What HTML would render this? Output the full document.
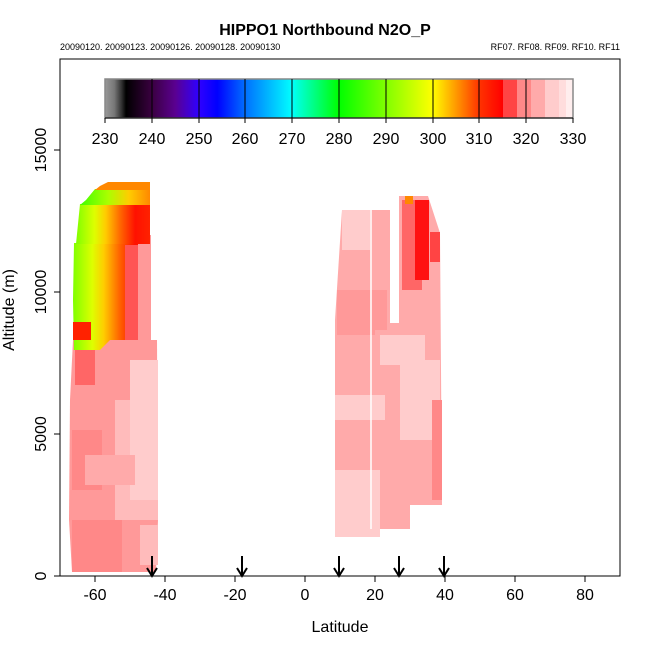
<!DOCTYPE html>
<html><head><style>
body{margin:0;background:#fff;width:650px;height:650px;overflow:hidden;font-family:"Liberation Sans",sans-serif}
</style></head><body>
<svg width="650" height="650" viewBox="0 0 650 650" xmlns="http://www.w3.org/2000/svg" font-family="Liberation Sans, sans-serif">
<defs>
<linearGradient id="cb" x1="0" x2="1" y1="0" y2="0">
<stop offset="0" stop-color="#999"/><stop offset="0.02" stop-color="#777"/><stop offset="0.035" stop-color="#333"/>
<stop offset="0.045" stop-color="#000"/><stop offset="0.1" stop-color="#3a0040"/><stop offset="0.15" stop-color="#5a0090"/>
<stop offset="0.2" stop-color="#3000ff"/><stop offset="0.24" stop-color="#0000ff"/><stop offset="0.3" stop-color="#0070ff"/>
<stop offset="0.4" stop-color="#00ffff"/><stop offset="0.41" stop-color="#00ffdd"/><stop offset="0.5" stop-color="#00ff00"/>
<stop offset="0.6" stop-color="#80ff00"/><stop offset="0.7" stop-color="#ffff00"/><stop offset="0.75" stop-color="#ff9900"/>
<stop offset="0.8" stop-color="#ff3300"/><stop offset="0.85" stop-color="#ff0000"/>
<stop offset="0.85" stop-color="#ff4444"/><stop offset="0.88" stop-color="#ff4444"/>
<stop offset="0.88" stop-color="#ff8888"/><stop offset="0.91" stop-color="#ff8888"/>
<stop offset="0.91" stop-color="#ffaaaa"/><stop offset="0.94" stop-color="#ffaaaa"/>
<stop offset="0.94" stop-color="#ffcccc"/><stop offset="0.97" stop-color="#ffcccc"/>
<stop offset="0.97" stop-color="#ffdddd"/><stop offset="0.985" stop-color="#ffdddd"/>
<stop offset="0.985" stop-color="#ffeeee"/><stop offset="1" stop-color="#ffeeee"/>
</linearGradient>
<linearGradient id="up" x1="0" x2="1" y1="0" y2="0">
<stop offset="0" stop-color="#80ff00"/><stop offset="0.25" stop-color="#ddff00"/><stop offset="0.4" stop-color="#ffcc00"/>
<stop offset="0.6" stop-color="#ff6600"/><stop offset="0.8" stop-color="#ff1100"/><stop offset="1" stop-color="#ff2200"/>
</linearGradient>
<linearGradient id="top" x1="0" x2="1" y1="0" y2="0">
<stop offset="0" stop-color="#40ff00"/><stop offset="0.4" stop-color="#aaff00"/><stop offset="0.7" stop-color="#ffcc00"/><stop offset="1" stop-color="#ff8800"/>
</linearGradient>
</defs>
<text x="325" y="35" font-size="16" font-weight="bold" text-anchor="middle">HIPPO1 Northbound N2O_P</text>
<text x="60" y="50" font-size="9">20090120. 20090123. 20090126. 20090128. 20090130</text>
<text x="620" y="50" font-size="9" text-anchor="end">RF07. RF08. RF09. RF10. RF11</text>
<rect x="105" y="79" width="468" height="39" fill="url(#cb)" stroke="#888" stroke-width="1.5"/>
<g stroke="#000" stroke-width="1">
<line x1="152" y1="79" x2="152" y2="118"/><line x1="199" y1="79" x2="199" y2="118"/><line x1="245" y1="79" x2="245" y2="118"/>
<line x1="292" y1="79" x2="292" y2="118"/><line x1="339" y1="79" x2="339" y2="118"/><line x1="386" y1="79" x2="386" y2="118"/>
<line x1="433" y1="79" x2="433" y2="118"/><line x1="479" y1="79" x2="479" y2="118"/><line x1="526" y1="79" x2="526" y2="118"/>
<line x1="105" y1="118" x2="573" y2="118"/>
</g>
<g stroke="#000"><line x1="105" y1="118" x2="105" y2="123"/><line x1="152" y1="118" x2="152" y2="123"/><line x1="199" y1="118" x2="199" y2="123"/><line x1="245" y1="118" x2="245" y2="123"/><line x1="292" y1="118" x2="292" y2="123"/><line x1="339" y1="118" x2="339" y2="123"/><line x1="386" y1="118" x2="386" y2="123"/><line x1="433" y1="118" x2="433" y2="123"/><line x1="479" y1="118" x2="479" y2="123"/><line x1="526" y1="118" x2="526" y2="123"/><line x1="573" y1="118" x2="573" y2="123"/></g>
<g font-size="16" text-anchor="middle">
<text x="105" y="144">230</text><text x="152" y="144">240</text><text x="199" y="144">250</text><text x="245" y="144">260</text><text x="292" y="144">270</text><text x="339" y="144">280</text><text x="386" y="144">290</text><text x="433" y="144">300</text><text x="479" y="144">310</text><text x="526" y="144">320</text><text x="573" y="144">330</text>
</g>
<!-- left column -->
<polygon points="73,340 157,340 158,520 156,572 72,572 69,520 70,400" fill="#ff9999"/>
<rect x="115" y="400" width="43" height="120" fill="#ffbbbb"/>
<rect x="130" y="360" width="28" height="140" fill="#ffcccc"/>
<rect x="72" y="430" width="30" height="60" fill="#ff8888"/>
<rect x="72" y="520" width="50" height="52" fill="#ff8888"/>
<rect x="85" y="455" width="50" height="30" fill="#ffaaaa"/>
<rect x="75" y="345" width="20" height="40" fill="#ff6666"/>
<rect x="140" y="525" width="18" height="40" fill="#ffbbbb"/>
<polygon points="74,243 150,243 150,340 110,340 100,350 74,350 73,300" fill="url(#up)"/>
<rect x="125" y="245" width="13" height="95" fill="#ff5555"/>
<rect x="138" y="235" width="13" height="105" fill="#ff9999"/>
<polygon points="80,204 150,204 150,244 76,244" fill="url(#up)"/>
<polygon points="95,189 150,189 150,205 80,205 86,200" fill="url(#top)"/>
<polygon points="108,182 150,182 150,190 95,190 100,186" fill="#ff8800"/>
<rect x="73" y="322" width="18" height="18" fill="#ff2200"/>
<!-- right region -->
<polygon points="342,210 390,210 390,323 399,323 399,196 415,196 428,196 440,233 442,505 410,505 410,529 376,529 376,537 335,537 335,320" fill="#ffaaaa"/>
<rect x="342" y="210" width="28" height="40" fill="#ffcccc"/>
<rect x="337" y="290" width="50" height="45" fill="#ff9999"/>
<rect x="335" y="395" width="50" height="25" fill="#ffcccc"/>
<rect x="335" y="470" width="45" height="67" fill="#ffcccc"/>
<rect x="375" y="330" width="25" height="50" fill="#ffaaaa"/>
<rect x="380" y="335" width="45" height="30" fill="#ffcccc"/>
<rect x="400" y="360" width="40" height="80" fill="#ffcccc"/>
<rect x="402" y="200" width="20" height="90" fill="#ff6666"/>
<rect x="415" y="200" width="14" height="80" fill="#ff1111"/>
<rect x="430" y="232" width="10" height="30" fill="#ff4444"/>
<rect x="405" y="196" width="8" height="8" fill="#ff8800"/>
<rect x="432" y="400" width="10" height="100" fill="#ff8888"/>
<line x1="371" y1="210" x2="371" y2="529" stroke="#fff" stroke-width="1.5"/>
<rect x="60" y="59" width="560" height="517" fill="none" stroke="#000"/>
<g stroke="#000">
<line x1="95" y1="576" x2="95" y2="582"/><line x1="165" y1="576" x2="165" y2="582"/><line x1="235" y1="576" x2="235" y2="582"/><line x1="305" y1="576" x2="305" y2="582"/><line x1="375" y1="576" x2="375" y2="582"/><line x1="445" y1="576" x2="445" y2="582"/><line x1="515" y1="576" x2="515" y2="582"/><line x1="585" y1="576" x2="585" y2="582"/>
<line x1="54" y1="576" x2="60" y2="576"/><line x1="54" y1="434" x2="60" y2="434"/><line x1="54" y1="292" x2="60" y2="292"/><line x1="54" y1="150" x2="60" y2="150"/>
</g>
<g font-size="16" text-anchor="middle">
<text x="95" y="600">-60</text><text x="165" y="600">-40</text><text x="235" y="600">-20</text><text x="305" y="600">0</text><text x="375" y="600">20</text><text x="445" y="600">40</text><text x="515" y="600">60</text><text x="585" y="600">80</text>
<text x="340" y="632">Latitude</text>
</g>
<g font-size="16" text-anchor="middle">
<text transform="translate(46,576) rotate(-90)">0</text>
<text transform="translate(46,434) rotate(-90)">5000</text>
<text transform="translate(46,292) rotate(-90)">10000</text>
<text transform="translate(46,150) rotate(-90)">15000</text>
<text transform="translate(14,310) rotate(-90)">Altitude (m)</text>
</g>
<g stroke="#000" stroke-width="2" fill="none">
<path d="M152,556 V576 M147,568 L152,576 L157,568"/>
<path d="M242,556 V576 M237,568 L242,576 L247,568"/>
<path d="M339,556 V576 M334,568 L339,576 L344,568"/>
<path d="M399,556 V576 M394,568 L399,576 L404,568"/>
<path d="M444,556 V576 M439,568 L444,576 L449,568"/>
</g>
</svg>
</body></html>
